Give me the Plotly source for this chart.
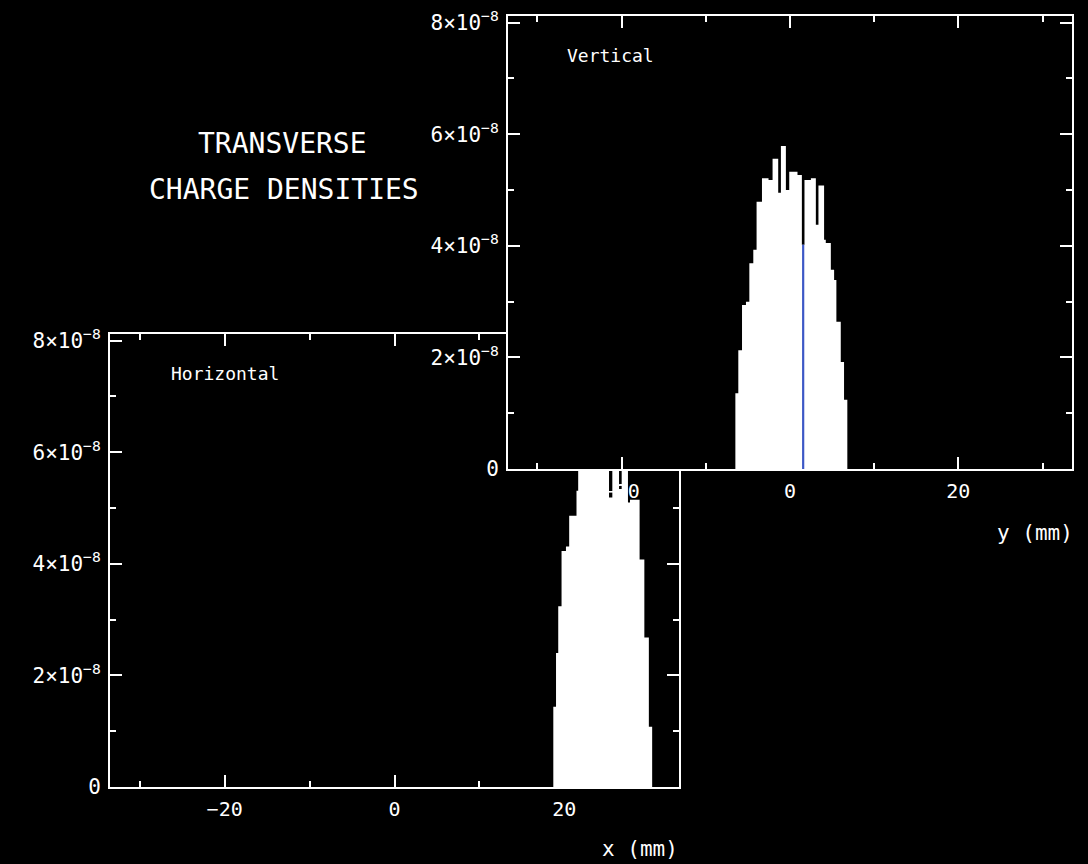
import plotly.graph_objects as go

# ---------------- data ----------------
# Horizontal charge density: bin edges (mm) and densities
H_EDGES = [18.70, 19.02, 19.28, 19.67, 20.19, 20.57, 21.43, 21.63, 22.80, 23.97,
           25.26, 25.65, 26.44, 26.75, 27.49, 27.73, 28.86, 29.42, 29.95, 30.34]
H_VALUES = [1.44e-8, 2.40e-8, 3.24e-8, 4.23e-8, 4.31e-8, 4.86e-8, 5.31e-8, 5.75e-8,
            6.10e-8, 6.30e-8, 5.19e-8, 6.00e-8, 5.34e-8, 5.90e-8, 5.10e-8, 5.15e-8,
            4.08e-8, 2.68e-8, 1.08e-8]

# Vertical charge density: bin edges (mm) and densities
V_EDGES = [-6.49, -6.14, -5.70, -5.23, -4.83, -4.36, -3.97, -3.33, -2.55, -2.07,
           -1.40, -1.08, -0.49, -0.09, 0.89, 1.41, 1.72, 2.48, 3.07, 3.38,
           4.05, 4.25, 4.85, 5.24, 5.51, 6.03, 6.42, 6.81]
V_VALUES = [1.36e-8, 2.13e-8, 2.94e-8, 3.00e-8, 3.69e-8, 3.93e-8, 4.79e-8, 5.21e-8,
            5.18e-8, 5.56e-8, 4.95e-8, 5.79e-8, 5.00e-8, 5.33e-8, 5.27e-8, 4.02e-8,
            5.18e-8, 5.21e-8, 4.38e-8, 5.08e-8, 4.11e-8, 4.05e-8, 3.57e-8, 3.39e-8,
            2.64e-8, 1.92e-8, 1.24e-8]
V_HIGHLIGHT_BIN = 15  # bin drawn in blue

Y_TICK_VALUES = [0, 2e-8, 4e-8, 6e-8, 8e-8]
Y_TICK_TEXT = ["0", "2×10<sup>−8</sup>", "4×10<sup>−8</sup>",
               "6×10<sup>−8</sup>", "8×10<sup>−8</sup>"]

TITLE_LINES = ["TRANSVERSE", "CHARGE DENSITIES"]

# ---------------- styling ----------------
FONT = "DejaVu Sans Mono, Liberation Mono, monospace"
WHITE = "white"
BLUE = "#3d58c6"
X_RANGE = [-33.5, 33.5]
Y_RANGE = [0, 8.12e-8]


def step_xy(edges, values):
    # histogram outline for a 'hv' step line
    return list(edges), list(values) + [values[-1]]


fig = go.Figure()

hx, hy = step_xy(H_EDGES, H_VALUES)
fig.add_trace(go.Scatter(x=hx, y=hy, mode="lines", line=dict(shape="hv", width=0, color=WHITE),
                         fill="tozeroy", fillcolor=WHITE, xaxis="x", yaxis="y", hoverinfo="skip"))

vx, vy = step_xy(V_EDGES, V_VALUES)
fig.add_trace(go.Scatter(x=vx, y=vy, mode="lines", line=dict(shape="hv", width=0, color=WHITE),
                         fill="tozeroy", fillcolor=WHITE, xaxis="x2", yaxis="y2", hoverinfo="skip"))

b0, b1 = V_EDGES[V_HIGHLIGHT_BIN], V_EDGES[V_HIGHLIGHT_BIN + 1]
bc = (b0 + b1) / 2
fig.add_trace(go.Scatter(x=[bc, bc], y=[0, V_VALUES[V_HIGHLIGHT_BIN]], mode="lines",
                         line=dict(color=BLUE, width=2.2),
                         xaxis="x2", yaxis="y2", hoverinfo="skip"))


def xstyle(domain, anchor):
    return dict(domain=domain, anchor=anchor, range=X_RANGE, showgrid=False, zeroline=False,
                automargin=False,
                showline=True, linecolor=WHITE, linewidth=2, mirror="ticks",
                ticks="inside", ticklen=12, tickwidth=2, tickcolor=WHITE,
                tickmode="linear", tick0=0, dtick=20,
                minor=dict(tickmode="linear", tick0=0, dtick=10, ticks="inside",
                           ticklen=6, tickwidth=2, tickcolor=WHITE),
                tickfont=dict(family=FONT, size=20, color=WHITE), ticklabelstandoff=3)


def ystyle(domain, anchor):
    return dict(domain=domain, anchor=anchor, range=Y_RANGE, showgrid=False, zeroline=False,
                automargin=False,
                showline=True, linecolor=WHITE, linewidth=2, mirror="ticks",
                ticks="inside", ticklen=12, tickwidth=2, tickcolor=WHITE,
                tickmode="array", tickvals=Y_TICK_VALUES, ticktext=Y_TICK_TEXT,
                minor=dict(tickmode="linear", tick0=0, dtick=1e-8, ticks="inside",
                           ticklen=6, tickwidth=2, tickcolor=WHITE),
                tickfont=dict(family=FONT, size=21, color=WHITE), ticklabelstandoff=3)


W, H = 1088, 864


def px(x):
    return x / W


def py(y):
    return 1 - y / H


annotations = [
    dict(text=TITLE_LINES[0], x=px(282), y=py(143), xref="paper", yref="paper",
         xanchor="center", yanchor="middle", showarrow=False,
         font=dict(family=FONT, size=28, color=WHITE)),
    dict(text=TITLE_LINES[1], x=px(284), y=py(189), xref="paper", yref="paper",
         xanchor="center", yanchor="middle", showarrow=False,
         font=dict(family=FONT, size=28, color=WHITE)),
    dict(text="Horizontal", x=px(169), y=py(373), xref="paper", yref="paper",
         xanchor="left", yanchor="middle", showarrow=False,
         font=dict(family=FONT, size=18, color=WHITE)),
    dict(text="Vertical", x=px(565), y=py(55), xref="paper", yref="paper",
         xanchor="left", yanchor="middle", showarrow=False,
         font=dict(family=FONT, size=18, color=WHITE)),
    dict(text="x (mm)", x=px(680), y=py(849), xref="paper", yref="paper",
         xanchor="right", yanchor="middle", showarrow=False,
         font=dict(family=FONT, size=21, color=WHITE)),
    dict(text="y (mm)", x=px(1075), y=py(533), xref="paper", yref="paper",
         xanchor="right", yanchor="middle", showarrow=False,
         font=dict(family=FONT, size=21, color=WHITE)),
]

fig.update_layout(
    width=W, height=H,
    margin=dict(l=0, r=0, t=0, b=0, autoexpand=False),
    paper_bgcolor="black", plot_bgcolor="black",
    showlegend=False,
    xaxis=xstyle([px(110), px(679)], "y"),
    yaxis=ystyle([py(787), py(334)], "x"),
    xaxis2=xstyle([px(508), px(1072)], "y2"),
    yaxis2=ystyle([py(469), py(16)], "x2"),
    annotations=annotations,
)

fig.write_html("out.html")
